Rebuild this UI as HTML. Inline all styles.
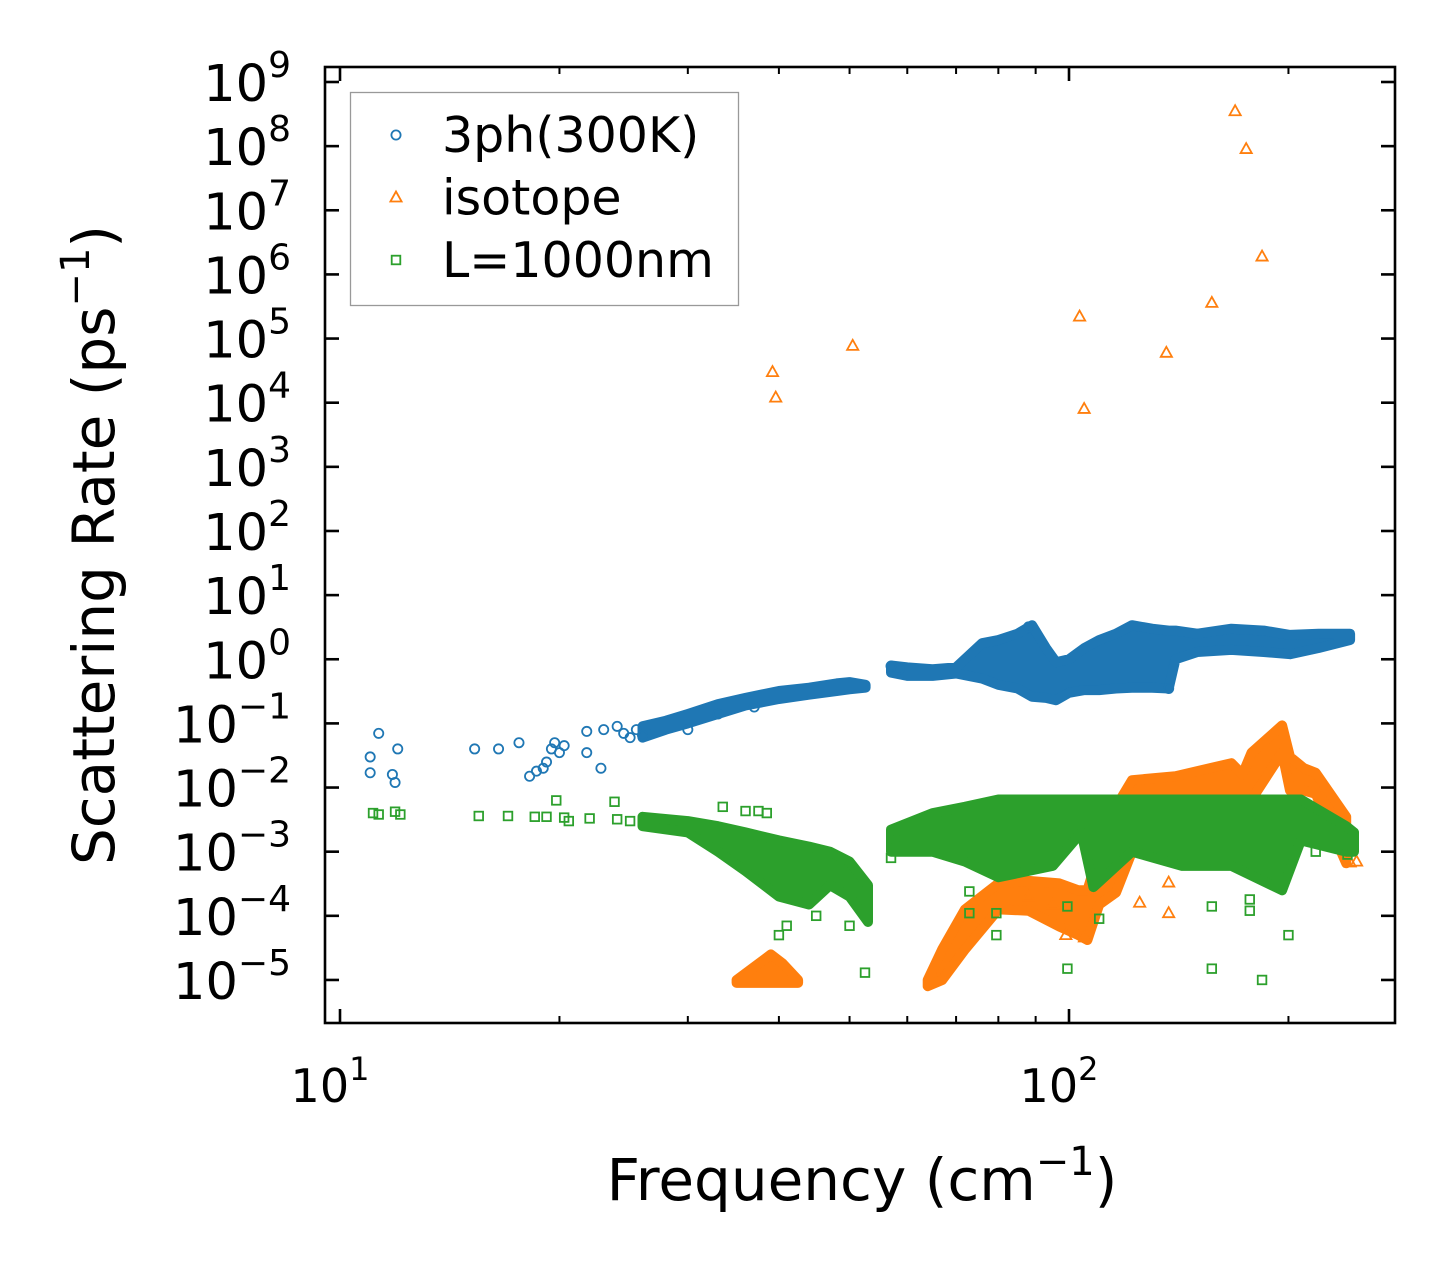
<!DOCTYPE html>
<html><head><meta charset="utf-8">
<style>
html,body{margin:0;padding:0;background:#fff;}
svg{display:block;font-family:"DejaVu Sans","Liberation Sans",sans-serif;}
</style></head>
<body>
<svg id="chart" width="1455" height="1273" viewBox="0 0 1455 1273" xmlns="http://www.w3.org/2000/svg">
<rect width="1455" height="1273" fill="#fff"/>
<g id="marks"></g>
<g id="axes"></g>
</svg>
<script>
// ---- data (frequency in cm^-1, rate in ps^-1) ----
const blueFreq = [11.0,11.0,11.3,11.8,11.9,12.0,15.3,16.5,17.6,18.2,18.6,19.0,19.2,19.5,19.7,20.0,20.3,21.8,21.8,22.8,23.0,24.0,24.5,25.0,25.5,26.0,30.0,33.0,37.0,57.0,58.5,88.0,137.0];
const blueRate = [0.03,0.017,0.07,0.016,0.012,0.04,0.04,0.04,0.05,0.015,0.018,0.02,0.025,0.04,0.05,0.035,0.045,0.075,0.035,0.02,0.08,0.09,0.07,0.06,0.08,0.065,0.08,0.14,0.18,0.78,0.7,3.2,0.35];
const blueBand1Freq = [26,28,30,33,36,40,44,48,50,52.6];
const blueBand1Low  = [0.06,0.08,0.1,0.14,0.19,0.24,0.28,0.32,0.34,0.36];
const blueBand1High = [0.09,0.11,0.14,0.2,0.25,0.32,0.36,0.42,0.44,0.4];
const blueBand2Freq = [57,60,65,70,76,80,85,89,93,96,100,105,110,116,122,130,137,140,150,167,185,201,220,243];
const blueBand2Low  = [0.62,0.55,0.55,0.6,0.5,0.4,0.35,0.26,0.25,0.23,0.3,0.33,0.33,0.35,0.36,0.36,0.35,1.0,1.3,1.4,1.3,1.2,1.5,2.0];
const blueBand2High = [0.8,0.75,0.7,0.75,1.78,2.0,2.5,3.4,1.5,0.9,1.0,1.5,2.0,2.5,3.4,3.0,2.8,2.8,2.5,3.0,2.8,2.4,2.5,2.5];

const orangeFreq = [39.2,39.6,50.5,103.4,104.9,136,157,169,175,184,105,137,137,125,243,248,88,95,99];
const orangeRate = [3e4,1.2e4,7.7e4,2.2e5,8e3,6e4,3.6e5,3.5e8,9e7,1.9e6,4.6e-5,1.1e-4,3.3e-4,1.6e-4,6.8e-4,7e-4,2e-4,1.5e-4,5e-5];
const orangeBand1Freq = [35,37,39,40.5,42.5];
const orangeBand1Low  = [9e-6,9e-6,9e-6,9e-6,9e-6];
const orangeBand1High = [1e-5,1.6e-5,2.5e-5,1.8e-5,1e-5];
const orangeBand2Freq = [64,67,72,80,88,97,103,106,110,116,122,140,167,173,178,196,201,210,218,240];
const orangeBand2Low  = [8e-6,1e-5,3e-5,1.26e-4,1.2e-4,6.8e-5,5e-5,4.2e-5,1.5e-4,2.3e-4,1e-3,6e-3,6.5e-3,6.5e-3,6.5e-3,3.5e-2,9e-3,9e-3,8e-3,6.6e-4];
const orangeBand2High = [1e-5,3e-5,1.26e-4,3.2e-4,3.5e-4,3.2e-4,2.5e-4,2.5e-4,1e-3,5e-3,1.3e-2,1.5e-2,2.4e-2,1.6e-2,3.5e-2,9.3e-2,3e-2,2e-2,1.7e-2,3.5e-3];

const greenFreq = [11.1,11.3,11.9,12.1,15.5,17,18.5,19.2,19.8,20.3,20.6,22,23.8,24,25,33.5,36,37.5,38.5,40,41,45,50,52.5,57,58,73,73,79.5,79.5,99.5,99.5,110,157,157,184,177,177,200,218,241];
const greenRate = [4e-3,3.8e-3,4.2e-3,3.8e-3,3.6e-3,3.6e-3,3.5e-3,3.5e-3,6.3e-3,3.4e-3,3e-3,3.3e-3,6e-3,3.2e-3,3e-3,5e-3,4.3e-3,4.3e-3,4e-3,5e-5,7e-5,1e-4,7e-5,1.3e-5,8e-4,1.6e-3,2.4e-4,1.1e-4,1.1e-4,5e-5,1.5e-5,1.4e-4,9e-5,1.5e-5,1.4e-4,1e-5,1.8e-4,1.2e-4,5e-5,1e-3,9e-4];
const greenBand1Freq = [26,30,33,36,40,44,47,50,53];
const greenBand1Low  = [2.5e-3,2e-3,1e-3,5e-4,2e-4,1.5e-4,3e-4,2e-4,8e-5];
const greenBand1High = [3.5e-3,3e-3,2.5e-3,2e-3,1.5e-3,1.2e-3,1e-3,7e-4,3e-4];
const greenBand2Freq = [57,65,72,80,95,104,108,122,143,167,196,208,240,246];
const greenBand2Low  = [1e-3,1e-3,7e-4,4e-4,6e-4,2e-3,2.8e-4,1e-3,6e-4,6e-4,2.5e-4,1.5e-3,1e-3,1e-3];
const greenBand2High = [2.2e-3,4e-3,5e-3,6.5e-3,6.5e-3,6.5e-3,6.5e-3,6.5e-3,6.5e-3,6.5e-3,6.5e-3,6.5e-3,2.5e-3,2e-3];

const yTickExps = [9,8,7,6,5,4,3,2,1,0,-1,-2,-3,-4,-5];
const xTickExps = [1,2];
const xMinor = [20,30,40,50,60,70,80,90,200];

// ---- axes mapping ----
const PL=325, PR=1395, PT=67, PB=1023;
function X(f){ return 340 + 729*(Math.log10(f)-1); }
function Y(v){ return 82 + 64.14*(9-Math.log10(v)); }

const NS="http://www.w3.org/2000/svg";
const marks=document.getElementById('marks');
const axes=document.getElementById('axes');
function mk(tag,attrs,parent){const e=document.createElementNS(NS,tag);for(const k in attrs)e.setAttribute(k,attrs[k]);parent.appendChild(e);return e;}

const BLUE="#1f77b4", ORANGE="#ff7f0e", GREEN="#2ca02c";

function band(freq,low,high,color,name){
  let pts=[];
  for(let i=0;i<freq.length;i++) pts.push(X(freq[i]).toFixed(1)+","+Y(high[i]).toFixed(1));
  for(let i=freq.length-1;i>=0;i--) pts.push(X(freq[i]).toFixed(1)+","+Y(low[i]).toFixed(1));
  const p=mk('polygon',{points:pts.join(' '),fill:color,stroke:color,'stroke-width':10,'stroke-linejoin':'round'},marks);
  
  
}
function marker(type,x,y,color,parent){
  let e;
  if(type==='circle') e=mk('circle',{cx:x,cy:y,r:4.6,fill:'none',stroke:color,'stroke-width':1.8},parent);
  else if(type==='tri') e=mk('polygon',{points:`${x},${y-6} ${x-5.6},${y+4} ${x+5.6},${y+4}`,fill:'none',stroke:color,'stroke-width':1.8},parent);
  else e=mk('rect',{x:x-4.3,y:y-4.3,width:8.6,height:8.6,fill:'none',stroke:color,'stroke-width':1.8},parent);
  return e;
}
function points(freq,rate,type,color,name){
  for(let i=0;i<freq.length;i++){
    const e=marker(type,X(freq[i]),Y(rate[i]),color,marks);
    
    
  }
}
band(blueBand1Freq,blueBand1Low,blueBand1High,BLUE,'3ph-band-low-freq');
band(blueBand2Freq,blueBand2Low,blueBand2High,BLUE,'3ph-band-high-freq');
points(blueFreq,blueRate,'circle',BLUE,'3ph-point');
band(orangeBand1Freq,orangeBand1Low,orangeBand1High,ORANGE,'isotope-band-low-freq');
band(orangeBand2Freq,orangeBand2Low,orangeBand2High,ORANGE,'isotope-band-high-freq');
points(orangeFreq,orangeRate,'tri',ORANGE,'isotope-point');
band(greenBand1Freq,greenBand1Low,greenBand1High,GREEN,'boundary-band-low-freq');
band(greenBand2Freq,greenBand2Low,greenBand2High,GREEN,'boundary-band-high-freq');
points(greenFreq,greenRate,'square',GREEN,'boundary-point');

// ---- frame & ticks ----
const frame=mk('rect',{x:PL,y:PT,width:PR-PL,height:PB-PT,fill:'none',stroke:'#000','stroke-width':2.6},axes);


yTickExps.forEach(e=>{
  const y=Y(Math.pow(10,e));
  mk('line',{x1:PL,y1:y,x2:PL+14,y2:y,stroke:'#000','stroke-width':2.6},axes);
  mk('line',{x1:PR,y1:y,x2:PR-14,y2:y,stroke:'#000','stroke-width':2.6},axes);
  const t=mk('text',{x:291,y:y+19,'font-size':51,'text-anchor':'end'},axes);
  
  
  const sup = e<0 ? '\u2212'+(-e) : String(e);
  t.innerHTML='10<tspan dy="-24" font-size="36">'+sup+'</tspan>';
});
xTickExps.forEach(e=>{
  const x=X(Math.pow(10,e));
  mk('line',{x1:x,y1:PB,x2:x,y2:PB-14,stroke:'#000','stroke-width':2.6},axes);
  mk('line',{x1:x,y1:PT,x2:x,y2:PT+14,stroke:'#000','stroke-width':2.6},axes);
  const t=mk('text',{x:x-10,y:1102,'font-size':46,'text-anchor':'middle'},axes);
  
  
  t.innerHTML='10<tspan dy="-22" font-size="32">'+e+'</tspan>';
});
xMinor.forEach(f=>{
  const x=X(f);
  mk('line',{x1:x,y1:PB,x2:x,y2:PB-7,stroke:'#000','stroke-width':2},axes);
  mk('line',{x1:x,y1:PT,x2:x,y2:PT+7,stroke:'#000','stroke-width':2},axes);
});

// axis titles
const xt=mk('text',{x:862,y:1200,'font-size':58,'text-anchor':'middle'},axes);


xt.innerHTML='Frequency (cm<tspan dy="-25" font-size="40">\u22121</tspan><tspan dy="25">)</tspan>';
const yt=mk('text',{x:0,y:0,'font-size':58,'text-anchor':'middle',transform:'translate(114,545) rotate(-90)'},axes);


yt.innerHTML='Scattering Rate (ps<tspan dy="-25" font-size="40">\u22121</tspan><tspan dy="25">)</tspan>';

// legend
const lg=mk('g',{},axes);


mk('rect',{x:350.5,y:92.5,width:388,height:213,fill:'#fff',stroke:'#999','stroke-width':1.3},lg);
const legLabels=['3ph(300K)','isotope','L=1000nm'];
const legTypes=['circle','tri','square'];
const legColors=[BLUE,ORANGE,GREEN];
const legNames=['legend-entry-3ph','legend-entry-isotope','legend-entry-boundary'];
for(let i=0;i<3;i++){
  const g=mk('g',{},lg);
  
  
  const y=135+i*62.5;
  marker(legTypes[i],396,y,legColors[i],g);
  const t=mk('text',{x:442,y:y+17,'font-size':49},g);
  t.textContent=legLabels[i];
}
</script>
</body></html>
